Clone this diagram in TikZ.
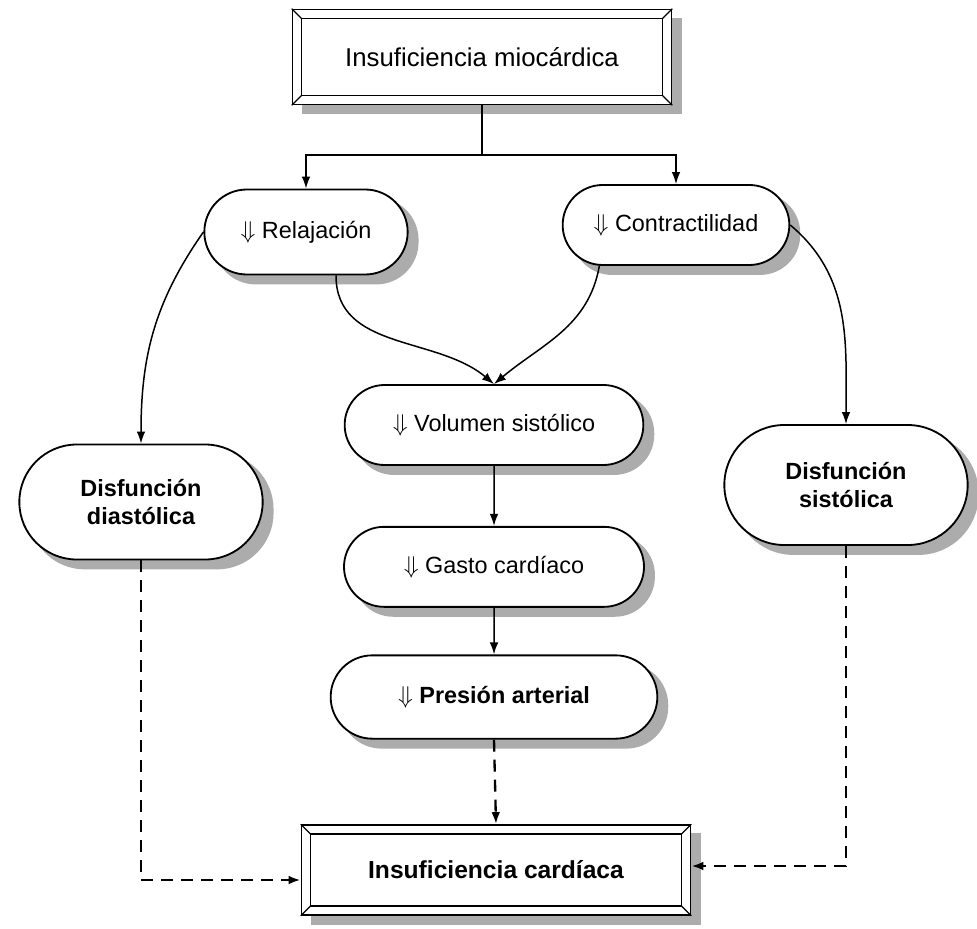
\documentclass[tikz,border=0pt]{standalone}
\usepackage{fontspec}
\setmainfont{Liberation Sans}
\usetikzlibrary{arrows.meta,positioning,calc,shapes.misc,backgrounds}

% inner rectangle and corner cuts of a bevelled frame
\newcommand{\bevel}[1]{%
  \draw[line width=.45mm] ($(#1.north west)+(3mm,-3mm)$) rectangle ($(#1.south east)+(-3mm,3mm)$);
  \draw[line width=.35mm] (#1.north west) -- ++(3mm,-3mm);
  \draw[line width=.35mm] (#1.north east) -- ++(-3mm,-3mm);
  \draw[line width=.35mm] (#1.south west) -- ++(3mm,3mm);
  \draw[line width=.35mm] (#1.south east) -- ++(-3mm,3mm);
}
% grey offset shadow behind a node
\newcommand{\shadowof}[2]{%
  \path (#1.west |- #1.north) coordinate (#1-nw) (#1.east |- #1.south) coordinate (#1-se);
  \begin{scope}[on background layer]
    \fill[gray!65,rounded corners=#2] ($(#1-nw)+(3mm,-2.7mm)$) rectangle ($(#1-se)+(3mm,-2.7mm)$);
  \end{scope}
}

\begin{document}
\begin{tikzpicture}[x=.3mm,y=-.3mm,>={Latex[length=3.6mm,width=2.6mm]},node distance=18mm]
  \tikzset{
    pill/.style={draw,line width=.55mm,fill=white,rounded rectangle,inner sep=2mm,
      font=\fontsize{20}{24}\selectfont},
    frame/.style={draw,line width=.5mm,fill=white,inner sep=2mm,
      font=\fontsize{22}{26}\selectfont},
    bold/.append style={font=\fontsize{20}{24}\selectfont\bfseries},
    link/.style={->,line width=.45mm},
    dashlink/.style={->,line width=.7mm,dash pattern=on 3.6mm off 2.4mm}
  }
  \useasboundingbox (0,0) rectangle (977,929);

  \node[frame,minimum width=113.7mm,minimum height=28.5mm] (mio) at (482,57) {Insuficiencia miocárdica};
  \bevel{mio}
  \shadowof{mio}{0mm}
  \node[pill,minimum width=65mm,minimum height=25.5mm] (rel) at (306,232) {$\Downarrow$ Relajación};
  \shadowof{rel}{12.7mm}
  \node[pill,minimum width=72mm,minimum height=24mm] (con) at (676,225) {$\Downarrow$ Contractilidad};
  \shadowof{con}{12mm}
  \node[pill,minimum width=93.6mm,minimum height=24mm] (vol) at (494,425) {$\Downarrow$ Volumen sistólico};
  \shadowof{vol}{12mm}
  \node[pill,minimum width=94mm,minimum height=24mm,below=of vol] (gas) {$\Downarrow$ Gasto cardíaco};
  \shadowof{gas}{12mm}
  \node[pill,bold,minimum width=102mm,minimum height=25mm,below=14mm of gas] (pre) {$\Downarrow$ Presión arterial};
  \shadowof{pre}{12.5mm}
  \node[pill,bold,minimum width=77mm,minimum height=34.5mm,align=center] (dia) at (141,502) {Disfunción\\diastólica};
  \shadowof{dia}{17mm}
  \node[pill,bold,minimum width=77mm,minimum height=36mm,align=center] (sis) at (846,485) {Disfunción\\sistólica};
  \shadowof{sis}{18mm}
  \node[frame,font=\fontsize{21}{25}\selectfont\bfseries,minimum width=116.7mm,minimum height=27mm] (ic) at (496,870) {Insuficiencia cardíaca};
  \bevel{ic}
  \shadowof{ic}{0mm}

  \coordinate (split) at (482,155);
  \draw[line width=.45mm] (mio.south) -- (split);
  \draw[link] (split) -| (rel.north);
  \draw[link] (split) -| (con.north);
  \draw[link] (rel.west) to[out=235,in=90] (dia.north);
  \draw[link] (con.east) to[out=-40,in=90] (sis.north);
  \draw[link] ([xshift=9mm]rel.south) to[out=-90,in=140] (vol.north);
  \draw[link] ([xshift=-23mm]con.south) to[out=-100,in=40] (vol.north);
  \draw[link] (vol) -- (gas);
  \draw[link] (gas) -- (pre);
  \draw[dashlink] (pre.south) -- (ic.north);
  \draw[dashlink] (dia.south) |- ($(ic.west)+(0,10)$);
  \draw[dashlink] (sis.south) |- ($(ic.east)+(0,-4)$);
\end{tikzpicture}
\end{document}
